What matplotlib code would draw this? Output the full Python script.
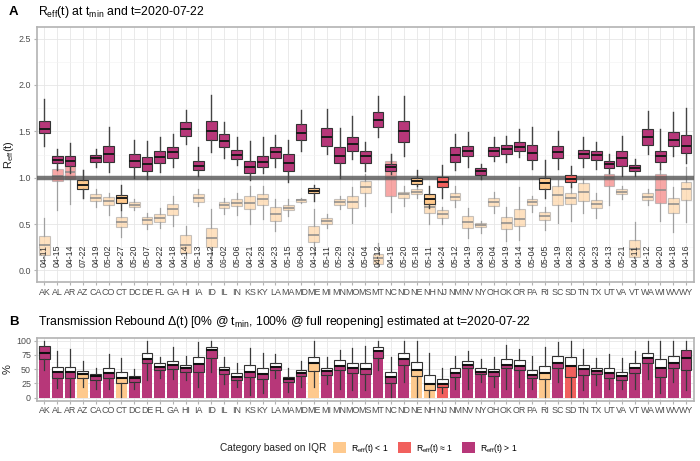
import matplotlib
matplotlib.use("Agg")
import matplotlib.pyplot as plt
from matplotlib.patches import Patch
import numpy as np

plt.rcParams['font.family'] = ['Liberation Sans', 'DejaVu Sans']
plt.rcParams['mathtext.fontset'] = 'custom'
plt.rcParams['mathtext.rm'] = 'Liberation Sans'
plt.rcParams['mathtext.it'] = 'Liberation Sans:italic'

states = ["AK","AL","AR","AZ","CA","CO","CT","DC","DE","FL","GA","HI","IA","ID","IL","IN","KS","KY","LA","MA",
          "MD","ME","MI","MN","MO","MS","MT","NC","ND","NE","NH","NJ","NM","NV","NY","OH","OK","OR","PA","RI",
          "SC","SD","TN","TX","UT","VA","VT","WA","WI","WV","WY"]
tmin_dates = ["04-11","04-15","04-14","07-22","04-19","05-02","04-27","05-20","05-07","04-22","04-18","04-14","05-13",
              "04-12","06-02","05-06","04-21","04-28","04-23","05-15","06-06","04-12","05-11","05-29","04-22","05-04",
              "04-12","04-15","05-20","05-18","05-11","04-24","05-12","04-19","04-30","05-04","04-19","04-14","05-04",
              "05-05","04-19","04-28","04-20","04-23","04-13","05-21","04-11","04-12","04-20","04-18","04-16"]

# category of current R_eff (t=2020-07-22): lt (<1), eq (~1), gt (>1)
cur_cat = ["gt","gt","gt","lt","gt","gt","lt","gt","gt","gt","gt","gt","gt","gt","gt","gt","gt","gt","gt","gt",
           "gt","lt","gt","gt","gt","gt","gt","gt","gt","lt","lt","eq","gt","gt","gt","gt","gt","gt","gt","lt",
           "gt","eq","gt","gt","gt","gt","gt","gt","gt","gt","gt"]
# category at t_min
tmin_cat = ["lt","eq","eq","lt","lt","lt","lt","lt","lt","lt","lt","lt","lt","lt","lt","lt","lt","lt","lt","lt",
            "lt","lt","lt","lt","lt","lt","lt","eq","lt","lt","lt","lt","lt","lt","lt","lt","lt","lt","lt","lt",
            "lt","lt","lt","lt","eq","lt","lt","lt","eq","lt","lt"]

# Panel A: current R_eff box stats
cur_lo  = [1.34,1.08,1.05,0.786,1.12,1.057,0.65,0.996,0.99,1.057,1.12,1.364,1.02,1.273,1.21,1.14,0.974,1.046,1.11,0.95,
           1.29,0.75,1.255,0.996,1.20,1.075,1.436,1.04,1.237,0.91,0.67,0.786,1.086,1.12,0.99,1.18,1.17,1.22,1.093,0.786,
           1.093,0.895,1.12,1.093,1.046,1.02,1.02,1.255,1.093,1.237,1.158]
cur_q1  = [1.48,1.155,1.13,0.873,1.17,1.17,0.725,1.11,1.075,1.158,1.21,1.447,1.08,1.41,1.328,1.20,1.05,1.11,1.21,1.075,
           1.407,0.83,1.346,1.154,1.284,1.158,1.544,1.075,1.39,0.93,0.72,0.895,1.17,1.23,1.03,1.237,1.255,1.284,1.19,0.877,
           1.21,0.956,1.21,1.19,1.10,1.13,1.068,1.357,1.165,1.338,1.266]
cur_med = [1.53,1.19,1.18,0.916,1.21,1.26,0.776,1.18,1.147,1.227,1.273,1.52,1.13,1.508,1.40,1.245,1.11,1.172,1.273,1.158,
           1.483,0.859,1.436,1.237,1.364,1.23,1.627,1.118,1.50,0.96,0.77,0.956,1.245,1.29,1.068,1.284,1.306,1.335,1.263,0.938,
           1.28,0.99,1.255,1.245,1.147,1.208,1.10,1.443,1.23,1.407,1.346]
cur_q3  = [1.61,1.23,1.23,0.974,1.245,1.345,0.81,1.255,1.227,1.29,1.328,1.60,1.18,1.609,1.47,1.30,1.176,1.23,1.328,1.255,
           1.58,0.887,1.537,1.328,1.436,1.29,1.71,1.147,1.61,0.996,0.822,1.01,1.33,1.346,1.10,1.335,1.353,1.38,1.357,0.996,
           1.346,1.03,1.30,1.29,1.183,1.284,1.136,1.526,1.29,1.49,1.46]
cur_hi  = [1.85,1.31,1.375,1.08,1.31,1.544,0.92,1.407,1.40,1.436,1.47,1.73,1.33,1.894,1.60,1.436,1.40,1.436,1.46,1.407,
           1.73,0.92,1.742,1.533,1.67,1.38,1.876,1.255,1.876,1.08,0.91,1.14,1.47,1.49,1.147,1.443,1.454,1.526,1.55,1.19,
           1.50,1.13,1.436,1.38,1.255,1.454,1.20,1.724,1.52,1.706,1.753]

# Panel A: R_eff at t_min box stats
tmin_lo  = [0.12,0.65,0.72,0.786,0.685,0.595,0.364,0.65,0.444,0.46,0.48,0.137,0.696,0.137,0.613,0.60,0.505,0.55,0.426,0.588,
            0.729,0.17,0.46,0.66,0.516,0.696,0.047,0.635,0.696,0.786,0.505,0.505,0.68,0.354,0.408,0.617,0.317,0.325,0.635,0.433,
            0.516,0.534,0.624,0.563,0.707,0.768,0.10,0.707,0.534,0.418,0.527]
tmin_q1  = [0.17,0.96,0.985,0.873,0.75,0.70,0.469,0.68,0.498,0.523,0.60,0.184,0.743,0.253,0.678,0.69,0.66,0.707,0.534,0.653,
            0.74,0.31,0.505,0.707,0.67,0.833,0.072,0.804,0.786,0.82,0.617,0.57,0.757,0.462,0.469,0.696,0.444,0.48,0.707,0.545,
            0.707,0.72,0.75,0.67,0.905,0.82,0.144,0.757,0.732,0.617,0.76]
tmin_med = [0.274,1.02,1.06,0.916,0.786,0.75,0.523,0.71,0.54,0.57,0.66,0.274,0.786,0.354,0.707,0.732,0.732,0.765,0.613,0.678,
            0.76,0.382,0.534,0.74,0.74,0.90,0.13,1.00,0.82,0.85,0.68,0.613,0.797,0.527,0.49,0.74,0.516,0.552,0.74,0.588,
            0.81,0.786,0.85,0.714,0.996,0.85,0.227,0.794,0.866,0.72,0.877]
tmin_q3  = [0.375,1.09,1.13,0.974,0.82,0.794,0.577,0.74,0.577,0.613,0.714,0.379,0.822,0.455,0.74,0.768,0.80,0.82,0.685,0.707,
            0.775,0.48,0.563,0.768,0.80,0.967,0.18,1.183,0.85,0.877,0.75,0.65,0.84,0.588,0.509,0.78,0.577,0.66,0.768,0.635,
            0.91,0.84,0.938,0.757,1.04,0.877,0.325,0.83,1.04,0.786,0.949]
tmin_hi  = [0.565,1.13,1.18,1.08,0.873,0.84,0.642,0.77,0.624,0.678,0.80,0.48,0.877,0.66,0.786,0.84,0.91,0.91,0.768,0.768,
            0.786,0.66,0.613,0.80,0.895,1.04,0.30,1.255,0.91,0.91,0.78,0.68,0.91,0.67,0.534,0.85,0.68,0.895,0.80,0.68,
            0.98,0.91,0.996,0.84,1.075,0.91,0.523,0.877,1.09,0.895,1.11]

# Panel B: transmission rebound (%)
reb_lo  = [48.5,17,2,19,16,16,2,16,31,34,32,31,19,45.7,24,19,5,7.6,34,10.6,19,19,23.4,14.6,13.5,13.5,48.6,0.6,28,0.6,
           2,8.8,16,16,28,18,16,19,16,0.6,28,0.6,13.5,22,14.6,14.6,14.6,32,7.6,28,13.5]
reb_q1  = [67,35,34,34,31,34,25,28,61,48.6,49.8,45.7,45.7,69,41,31,35.7,32,48.6,28,38,46.8,40,48.6,42.7,41.6,70,25,57.4,38,
           13.5,19,35.7,51.5,41.6,38,51.5,48.6,34,32,51.5,35.7,40,41,35,31,42.7,60,35.7,51.5,48.6]
reb_med = [78,44.5,45,41.5,38,42.7,35,34,67,54.4,57.4,51.5,59,83.7,48.6,35.7,45.7,41,53,32,44,60,46.8,55.6,51.5,49.8,82,35.7,67,48.6,
           24,24,44,57.4,45.7,44.5,57.4,55.6,39.8,44,61.5,55.6,49.8,46.8,42.7,38,51.5,69,51.5,61.5,70]
reb_q3  = [90,53.5,54.4,47,41,51.5,44.5,38,78,60,65,57.4,72,89.5,54.4,42.7,57.4,51.5,60,37,48.6,72,52.7,66,60,61.5,88.4,45.7,79,63,
           40,32,51.5,65,51.5,50.3,67,66,48.6,55.6,73,70.8,57.4,51.5,51.5,45.7,60,79,67,73,83.7]
reb_hi  = [100,82,85,64,52.6,76,69,50,100,72,88,73,98,100,72,60,86.6,78,76.7,51.5,65,100,70.8,83.7,86.6,90.7,100,72,100,100,
           79,51.5,73,82,67,70.8,92.4,85,73,88.4,98,100,85,69,76.7,69,82.5,100,100,100,100]
reb_bar = [90,44.5,44.5,40.5,37,41.5,34,33.5,66,55,57,52.5,59.5,84.5,49,35.5,45.5,41,53,32,44,59,46.5,54.5,51.5,49.5,82,35.5,67,48.5,
           23.5,24,44,57,45.5,44.5,57,55.5,39.5,43,61.5,55,49.5,46.5,42.5,38,51.5,70,51.5,61.5,83.7]

cat_colors = {"lt": "#FEC98D", "eq": "#F1605D", "gt": "#B73779"}
cat_order = ["lt", "eq", "gt"]
cat_labels = [r"R$_\mathrm{eff}$(t) < 1", r"R$_\mathrm{eff}$(t) ≈ 1", r"R$_\mathrm{eff}$(t) > 1"]

n = len(states)
x = np.arange(n)

fig = plt.figure(figsize=(7.0, 4.61), dpi=100)
axA = fig.add_axes([0.0524, 0.3883, 0.9386, 0.5531])
axB = fig.add_axes([0.0524, 0.131, 0.9386, 0.1365])

def style_axes(ax):
    for s in ax.spines.values():
        s.set_color("#b3b3b3")
        s.set_linewidth(1.2)
    ax.tick_params(axis="both", which="major", color="#b3b3b3", length=2.5, width=0.8,
                   labelsize=6.4, labelcolor="#4d4d4d", pad=1.5)
    ax.tick_params(axis="both", which="minor", length=0)
    ax.set_axisbelow(True)
    ax.grid(True, which="major", color="#e6e6e6", lw=0.6)
    ax.grid(True, which="minor", axis="y", color="#f2f2f2", lw=0.4)

def stats(lo, q1, med, q3, hi):
    return [dict(whislo=a, q1=b, med=c, q3=d, whishi=e, fliers=[]) for a, b, c, d, e in zip(lo, q1, med, q3, hi)]

# ---------- Panel A ----------
style_axes(axA)
bt = axA.bxp(stats(tmin_lo, tmin_q1, tmin_med, tmin_q3, tmin_hi), positions=x, widths=0.85,
             patch_artist=True, showcaps=False, showfliers=False,
             boxprops=dict(edgecolor="#9a9a9a", linewidth=0.8),
             medianprops=dict(color="#8a8a8a", linewidth=1.1),
             whiskerprops=dict(color="#a0a0a0", linewidth=0.9), zorder=2)
for b, c in zip(bt["boxes"], tmin_cat):
    b.set_facecolor(cat_colors[c])
    b.set_alpha(0.55)

axA.axhline(1.0, color="#555555", lw=3.2, alpha=0.8, zorder=3)

bc = axA.bxp(stats(cur_lo, cur_q1, cur_med, cur_q3, cur_hi), positions=x, widths=0.85,
             patch_artist=True, showcaps=False, showfliers=False,
             boxprops=dict(edgecolor="#333333", linewidth=0.8),
             medianprops=dict(color="#1a1a1a", linewidth=1.4),
             whiskerprops=dict(color="#444444", linewidth=1.0), zorder=4)
for b, c in zip(bc["boxes"], cur_cat):
    b.set_facecolor(cat_colors[c])

for xi, d in zip(x, tmin_dates):
    axA.text(xi, 0.155, d, rotation=90, ha="center", va="center", fontsize=6.3, color="#333333", zorder=6)

axA.set_xlim(-0.6, n - 0.4)
axA.set_ylim(-0.125, 2.625)
axA.set_yticks([0, 0.5, 1.0, 1.5, 2.0, 2.5])
axA.set_yticks(np.arange(0.25, 2.5, 0.5), minor=True)
axA.set_yticklabels(["0.0", "0.5", "1.0", "1.5", "2.0", "2.5"])
axA.set_xticks(x)
axA.set_xticklabels(states)
axA.set_ylabel(r"R$_\mathrm{eff}$(t)", fontsize=8, color="#222222")
axA.yaxis.set_label_coords(-0.032, 0.5)

fig.text(0.013, 0.974, "A", fontsize=9.5, fontweight="bold", va="center", ha="left")
fig.text(0.054, 0.974, r"R$_\mathrm{eff}$(t) at t$_\mathrm{min}$ and t=2020-07-22", fontsize=8.8, va="center", ha="left")

# ---------- Panel B ----------
style_axes(axB)
axB.bxp(stats(reb_lo, reb_q1, reb_med, reb_q3, reb_hi), positions=x, widths=0.85,
        patch_artist=True, showcaps=False, showfliers=False,
        boxprops=dict(facecolor="white", edgecolor="none"),
        medianprops=dict(color="none"), whiskerprops=dict(color="none"), zorder=2)
axB.bar(x, reb_bar, width=0.85, color=[cat_colors[c] for c in cur_cat], zorder=3, linewidth=0)
axB.bxp(stats(reb_lo, reb_q1, reb_med, reb_q3, reb_hi), positions=x, widths=0.85,
        patch_artist=True, showcaps=False, showfliers=False,
        boxprops=dict(facecolor="none", edgecolor="#333333", linewidth=0.8),
        medianprops=dict(color="#111111", linewidth=1.5),
        whiskerprops=dict(color="#3a3a3a", linewidth=0.9), zorder=4)
axB.set_xlim(-0.6, n - 0.4)
axB.set_ylim(-5, 105)
axB.set_yticks([0, 25, 50, 75, 100])
axB.set_yticks([12.5, 37.5, 62.5, 87.5], minor=True)
axB.set_xticks(x)
axB.set_xticklabels(states)
axB.set_ylabel("%", fontsize=8, color="#222222")
axB.yaxis.set_label_coords(-0.036, 0.5)

fig.text(0.013, 0.302, "B", fontsize=9.5, fontweight="bold", va="center", ha="left")
fig.text(0.054, 0.302, r"Transmission Rebound Δ(t) [0% @ t$_\mathrm{min}$, 100% @ full reopening] estimated at t=2020-07-22",
         fontsize=8.8, va="center", ha="left")

# ---------- Legend ----------
fig.text(0.314, 0.028, "Category based on IQR", fontsize=7.3, color="#222222", va="center", ha="left")
handles = [Patch(facecolor=cat_colors[c], edgecolor="none") for c in cat_order]
fig.legend(handles, cat_labels, ncol=3, loc="center left", bbox_to_anchor=(0.470, 0.028), frameon=False,
           fontsize=6.2, handlelength=1.5, handleheight=1.5, columnspacing=1.0, handletextpad=0.6, borderpad=0)

fig.savefig("out.png", dpi=100)
